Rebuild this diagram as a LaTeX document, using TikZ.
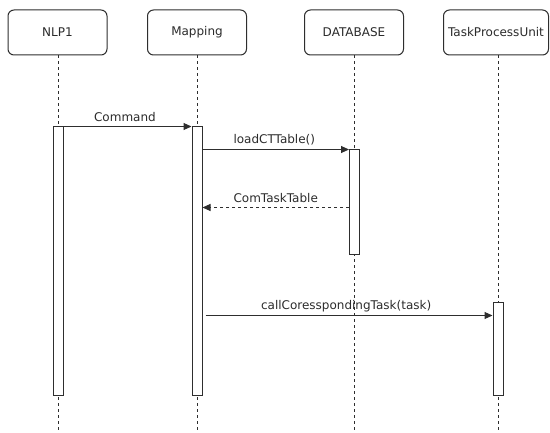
\documentclass[tikz,border=0pt]{standalone}
\usepackage{fontspec}
\setmainfont{DejaVu Sans}
\usetikzlibrary{arrows.meta,calc}
\definecolor{ln}{HTML}{2E2E2E}
\definecolor{tx}{HTML}{2B2B2B}
\begin{document}
\begin{tikzpicture}[x=1pt,y=-1pt,
  head/.style={draw=ln,line width=1pt,rounded corners=6pt,minimum width=99pt,minimum height=45pt,inner sep=0pt,font=\fontsize{12}{14}\selectfont,text=tx,fill=white},
  act/.style={draw=ln,line width=1pt,fill=white,minimum width=10pt,inner sep=0pt},
  life/.style={draw=ln,line width=0.8pt,dash pattern=on 3pt off 3pt},
  msg/.style={draw=ln,line width=1pt,-{Triangle[length=8pt,width=7pt]}},
  ret/.style={draw=ln,line width=1pt,dash pattern=on 3pt off 3pt,-{Triangle[length=8pt,width=7pt]}},
  lbl/.style={font=\fontsize{12}{14}\selectfont,text=tx,inner sep=1pt}]
\useasboundingbox (0,0) rectangle (550,433);
% heads
\node[head] (nlp) at (57.5,32.5) {NLP1};
\node[head] (map) at (197,32.5) {Mapping};
\node[head] (db) at (354,32.5) {DATABASE};
\node[head,minimum width=105pt] (tpu) at (496,32.5) {TaskProcessUnit};
% lifeline ends
\coordinate (nlpe) at (58,433);
\coordinate (mape) at (197,433);
\coordinate (dbe) at (354,433);
\coordinate (tpue) at (498,433);
\draw[life] (nlp.south -| nlpe) -- (nlpe);
\draw[life] (map.south -| mape) -- (mape);
\draw[life] (db.south -| dbe) -- (dbe);
\draw[life] (tpu.south -| tpue) -- (tpue);
% activations
\node[act,minimum height=269pt] (nlpa) at (58,261.5) {};
\node[act,minimum height=269pt] (mapa) at (197,261.5) {};
\node[act,minimum height=105pt] (dba) at (354.5,202.5) {};
\node[act,minimum height=93pt] (tpua) at (498,349.5) {};
% messages
\draw[msg] (nlpa.north east) -- node[lbl,above=3pt,pos=0.48] (l1) {Command} (mapa.north west);
\coordinate (m2) at ($(mapa.north east)+(0,23)$);
\draw[msg] (m2) -- node[lbl,above=3pt,pos=0.49] (l2) {loadCTTable()} (m2 -| dba.west);
\coordinate (m3) at ($(dba.north west)+(0,58)$);
\draw[ret] (m3) -- node[lbl,above=3pt,pos=0.5] (l3) {ComTaskTable} (m3 -| mapa.east);
\coordinate (m4) at ($(mapa.north east)+(3,189)$);
\draw[msg] (m4) -- node[lbl,above=2pt,pos=0.49] (l4) {callCoresspondingTask(task)} (m4 -| tpua.west);
\end{tikzpicture}
\end{document}
